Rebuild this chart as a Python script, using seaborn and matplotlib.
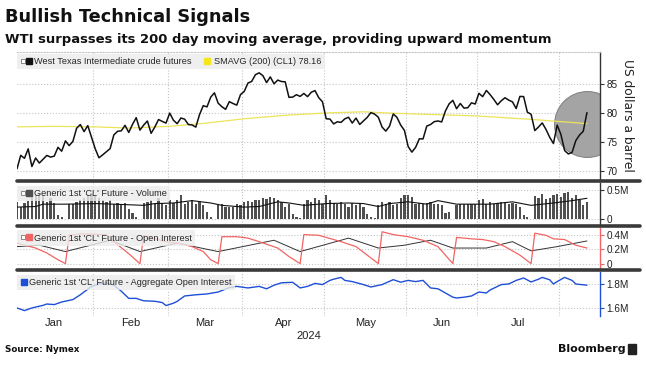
import numpy as np
import pandas as pd
import matplotlib
matplotlib.use("Agg")
from matplotlib import pyplot as plt
from matplotlib.lines import Line2D
from matplotlib.patches import Rectangle
from matplotlib.legend_handler import HandlerTuple
from matplotlib.transforms import blended_transform_factory
import seaborn as sns

# NYMEX sessions Jan 2 - Aug 12 2024
HOLIDAYS = ["2024-01-15", "2024-02-19", "2024-03-29", "2024-05-27", "2024-06-19", "2024-07-04"]
sessions = pd.bdate_range("2024-01-02", "2024-08-12")
sessions = sessions[~sessions.isin(pd.to_datetime(HOLIDAYS))]

wti_close = [
    70.38, 72.70, 72.19, 73.81, 70.77, 72.24, 71.37, 72.02, 72.68, 72.40, 72.56, 74.08, 73.41, 75.19,
    74.37, 75.09, 77.36, 78.01, 76.78, 77.82, 75.85,
    73.82, 72.28, 72.78, 73.31, 73.86, 76.22, 76.84, 76.92, 77.87, 76.64, 78.03, 79.19, 77.04, 77.91,
    78.61, 76.49, 77.58, 78.87, 78.54, 78.26,
    79.97, 78.74, 78.15, 79.13, 78.93, 78.01, 77.93, 77.56, 79.72, 81.26, 81.04, 82.72, 83.47, 81.68,
    81.07, 80.63, 81.95, 81.62, 81.35, 83.17,
    83.71, 85.15, 85.43, 86.59, 86.91, 86.43, 85.23, 86.21, 85.02, 85.66, 85.41, 85.36, 82.69, 82.73,
    83.14, 82.85, 83.36, 82.81, 83.57, 83.85, 82.63, 81.93,
    79.00, 78.95, 78.11, 78.48, 78.38, 78.99, 79.26, 78.26, 79.12, 78.02, 78.63, 79.23, 80.06, 79.80,
    79.26, 77.57, 76.87, 77.72, 79.83, 79.23, 77.91, 76.99,
    74.22, 73.25, 74.07, 75.55, 75.53, 77.74, 78.00, 78.50, 78.62, 78.45, 80.33, 81.57, 82.17, 80.73,
    81.63, 80.83, 80.90, 81.74, 81.54,
    83.38, 82.81, 83.88, 83.16, 82.33, 81.41, 82.10, 82.62, 82.21, 81.91, 80.76, 82.85, 82.82, 80.13,
    79.78, 76.96, 77.59, 78.28, 77.16, 75.81, 74.73, 77.91,
    76.31, 73.52, 72.94, 73.20, 75.23, 76.19, 76.84, 80.06,
]

sma_dates = ["2024-01-02", "2024-01-17", "2024-02-01", "2024-02-14", "2024-03-01", "2024-03-14",
             "2024-04-01", "2024-04-16", "2024-05-01", "2024-05-15", "2024-05-23", "2024-06-06",
             "2024-06-28", "2024-07-22", "2024-08-12"]
sma_values = [77.6, 77.7, 77.6, 77.4, 77.7, 78.2, 79.0, 79.6, 80.0, 80.2, 80.0, 79.8, 79.5, 78.9, 78.16]

# generic 1st CL volume, millions of contracts
volume_m = [
    0.30, 0.21, 0.28, 0.32, 0.40, 0.41, 0.44, 0.41, 0.30, 0.36, 0.28, 0.07, 0.04, 0.01, 0.27, 0.27,
    0.30, 0.33, 0.36, 0.41, 0.45,
    0.41, 0.36, 0.33, 0.30, 0.33, 0.27, 0.28, 0.24, 0.28, 0.17, 0.11, 0.04, 0.01, 0.28, 0.30, 0.33,
    0.27, 0.36, 0.28, 0.24,
    0.33, 0.28, 0.33, 0.41, 0.27, 0.30, 0.33, 0.27, 0.30, 0.24, 0.13, 0.04, 0.01, 0.24, 0.27, 0.21,
    0.22, 0.21, 0.27, 0.25,
    0.30, 0.32, 0.30, 0.33, 0.33, 0.36, 0.34, 0.385, 0.36, 0.33, 0.30, 0.22, 0.27, 0.10, 0.04, 0.03,
    0.27, 0.33, 0.30, 0.36, 0.33, 0.27,
    0.41, 0.33, 0.28, 0.27, 0.30, 0.27, 0.22, 0.28, 0.24, 0.27, 0.21, 0.10, 0.04, 0.03, 0.24, 0.30,
    0.27, 0.30, 0.24, 0.27, 0.36, 0.41,
    0.41, 0.385, 0.27, 0.28, 0.26, 0.28, 0.30, 0.27, 0.26, 0.24, 0.11, 0.13, 0.01, 0.24, 0.26, 0.26,
    0.27, 0.26, 0.27,
    0.33, 0.34, 0.27, 0.30, 0.26, 0.28, 0.30, 0.30, 0.27, 0.28, 0.27, 0.21, 0.07, 0.05, 0.01, 0.40,
    0.36, 0.44, 0.34, 0.36, 0.41, 0.44,
    0.385, 0.45, 0.47, 0.36, 0.41, 0.33, 0.24, 0.30,
]

vol_avg_dates = ["2024-01-02", "2024-01-09", "2024-01-11", "2024-01-22", "2024-02-01", "2024-02-08",
                 "2024-02-21", "2024-02-26", "2024-03-04", "2024-03-11", "2024-03-18", "2024-03-21",
                 "2024-04-01", "2024-04-05", "2024-04-12", "2024-04-17", "2024-04-23", "2024-05-01",
                 "2024-05-09", "2024-05-15", "2024-05-21", "2024-05-24", "2024-06-03", "2024-06-10",
                 "2024-06-13", "2024-06-21", "2024-07-05", "2024-07-15", "2024-07-22", "2024-07-30",
                 "2024-08-06", "2024-08-12"]
vol_avg_values = [0.21, 0.22, 0.26, 0.26, 0.27, 0.26, 0.24, 0.27, 0.28, 0.32, 0.28, 0.24, 0.21, 0.22,
                  0.30, 0.28, 0.24, 0.27, 0.28, 0.27, 0.22, 0.27, 0.30, 0.26, 0.32, 0.26, 0.26, 0.30,
                  0.24, 0.28, 0.32, 0.36]

oi_dates = ["2024-01-02", "2024-01-09", "2024-01-12", "2024-01-18", "2024-01-22", "2024-01-23",
            "2024-01-26", "2024-02-06", "2024-02-08", "2024-02-14", "2024-02-20", "2024-02-21",
            "2024-02-26", "2024-02-29", "2024-03-06", "2024-03-11", "2024-03-14", "2024-03-18",
            "2024-03-20", "2024-03-21", "2024-03-27", "2024-04-02", "2024-04-05", "2024-04-12",
            "2024-04-17", "2024-04-22", "2024-04-23", "2024-04-29", "2024-05-01", "2024-05-07",
            "2024-05-13", "2024-05-16", "2024-05-21", "2024-05-22", "2024-05-28", "2024-06-03",
            "2024-06-07", "2024-06-13", "2024-06-20", "2024-06-21", "2024-06-27", "2024-07-02",
            "2024-07-08", "2024-07-11", "2024-07-17", "2024-07-22", "2024-07-23", "2024-07-26",
            "2024-07-30", "2024-08-02", "2024-08-07", "2024-08-12"]
oi_values = [0.29, 0.22, 0.15, 0.055, 0.0, 0.40, 0.42, 0.41, 0.31, 0.14, 0.0, 0.40, 0.35, 0.31, 0.28,
             0.24, 0.17, 0.055, 0.0, 0.38, 0.38, 0.36, 0.31, 0.22, 0.10, 0.0, 0.41, 0.40, 0.37, 0.31,
             0.24, 0.12, 0.0, 0.45, 0.41, 0.38, 0.33, 0.24, 0.0, 0.37, 0.35, 0.34, 0.31, 0.24, 0.12,
             0.0, 0.43, 0.40, 0.35, 0.34, 0.26, 0.22]

oi_ref_dates = ["2024-01-02", "2024-01-10", "2024-01-22", "2024-02-07", "2024-02-20", "2024-03-05",
                "2024-03-20", "2024-04-11", "2024-04-22", "2024-05-09", "2024-05-21", "2024-05-31",
                "2024-06-11", "2024-06-20", "2024-07-03", "2024-07-15", "2024-07-22", "2024-07-31",
                "2024-08-12"]
oi_ref_values = [0.24, 0.26, 0.17, 0.33, 0.17, 0.29, 0.17, 0.33, 0.17, 0.36, 0.22, 0.26, 0.33, 0.22,
                 0.22, 0.31, 0.18, 0.24, 0.32]

agg_dates = ["2024-01-02", "2024-01-04", "2024-01-08", "2024-01-11", "2024-01-12", "2024-01-17",
             "2024-01-19", "2024-01-24", "2024-01-26", "2024-01-31", "2024-02-02", "2024-02-06",
             "2024-02-08", "2024-02-12", "2024-02-14", "2024-02-16", "2024-02-21", "2024-02-26",
             "2024-02-28", "2024-02-29", "2024-03-04", "2024-03-05", "2024-03-07", "2024-03-12",
             "2024-03-15", "2024-03-20", "2024-03-25", "2024-03-27", "2024-04-02", "2024-04-05",
             "2024-04-09", "2024-04-11", "2024-04-15", "2024-04-18", "2024-04-22", "2024-04-24",
             "2024-04-26", "2024-04-30", "2024-05-02", "2024-05-03", "2024-05-07", "2024-05-08",
             "2024-05-10", "2024-05-15", "2024-05-17", "2024-05-22", "2024-05-28", "2024-05-30",
             "2024-06-03", "2024-06-05", "2024-06-07", "2024-06-11", "2024-06-13", "2024-06-17",
             "2024-06-20", "2024-06-21", "2024-06-25", "2024-06-27", "2024-07-01", "2024-07-03",
             "2024-07-05", "2024-07-10", "2024-07-12", "2024-07-16", "2024-07-18", "2024-07-22",
             "2024-07-24", "2024-07-25", "2024-07-29", "2024-07-30", "2024-07-31", "2024-08-02",
             "2024-08-06", "2024-08-07", "2024-08-12"]
agg_values = [1.600, 1.578, 1.600, 1.622, 1.633, 1.628, 1.650, 1.670, 1.710, 1.780, 1.800, 1.810,
              1.790, 1.740, 1.680, 1.680, 1.660, 1.656, 1.645, 1.620, 1.640, 1.655, 1.700, 1.710,
              1.717, 1.733, 1.770, 1.780, 1.767, 1.780, 1.760, 1.790, 1.810, 1.814, 1.767, 1.780,
              1.805, 1.795, 1.830, 1.840, 1.855, 1.830, 1.820, 1.795, 1.775, 1.795, 1.836, 1.815,
              1.830, 1.820, 1.830, 1.767, 1.760, 1.725, 1.690, 1.683, 1.690, 1.700, 1.733, 1.725,
              1.750, 1.795, 1.800, 1.830, 1.850, 1.817, 1.840, 1.855, 1.835, 1.800, 1.820, 1.855,
              1.830, 1.800, 1.790]

BLACK = "#111111"
YELLOW = "#ece45a"
GREY_BAR = "#4f4f4f"
RED = "#f26464"
BLUE = "#1f4fd6"
GRID = "#c4c4c4"
TEXT = "#222222"

sns.set_style("white")
plt.rcParams["font.family"] = ["Liberation Sans", "DejaVu Sans"]

n = len(sessions)
day = np.arange(n)
pos = pd.Series(day, index=sessions)


def at(dates):
    return pos[pd.to_datetime(dates)].values


months = sessions.month
bounds = [i - 0.5 for i in range(1, n) if months[i] != months[i - 1]]
centers, mlabels = [], []
for m in sorted(set(months)):
    idx = np.where(months == m)[0]
    if len(idx) > 15:
        centers.append((idx[0] + idx[-1]) / 2)
        mlabels.append(sessions[idx[0]].strftime("%b"))

W, H = 646, 372
fig = plt.figure(figsize=(W / 100, H / 100), dpi=100)


def panel(top, bottom):
    return fig.add_axes([17 / W, 1 - bottom / H, (600 - 17) / W, (bottom - top) / H])


ax_px = panel(52, 180)
ax_vol = panel(183, 224.5)
ax_oi = panel(227.5, 268.5)
ax_agg = panel(272, 316)

# price panel
ax_px.scatter([n - 1], [sma_values[-1]], s=2250, color="#a4a4a4", edgecolor="#858585",
              linewidth=0.8, zorder=1.5)
sns.lineplot(x=at(sma_dates), y=sma_values, color=YELLOW, linewidth=0.9, ax=ax_px, zorder=2)
sns.lineplot(x=day, y=wti_close, color=BLACK, linewidth=1.1, ax=ax_px, zorder=3)

# volume panel
sns.barplot(x=day, y=volume_m, native_scale=True, color=GREY_BAR, saturation=1, width=0.6,
            linewidth=0, errorbar=None, ax=ax_vol, zorder=2)
sns.lineplot(x=at(vol_avg_dates), y=vol_avg_values, color=BLACK, linewidth=0.8, ax=ax_vol, zorder=3)

# open interest panel
sns.lineplot(x=at(oi_ref_dates), y=oi_ref_values, color="#333333", linewidth=0.7, ax=ax_oi, zorder=2)
sns.lineplot(x=at(oi_dates), y=oi_values, color=RED, linewidth=0.9, ax=ax_oi, zorder=3)

# aggregate open interest panel
sns.lineplot(x=at(agg_dates), y=agg_values, color=BLUE, linewidth=1.0, ax=ax_agg, zorder=3)


def style(ax, ylim, ticks, labels, spine_color):
    ax.set_xlim(0, 156.5)
    ax.set_ylim(*ylim)
    ax.set_xlabel("")
    ax.set_ylabel("")
    ax.yaxis.tick_right()
    ax.set_yticks(ticks, labels)
    ax.tick_params(axis="y", direction="out", length=3, width=0.8, color=spine_color, pad=1.5,
                   labelsize=7.2, labelcolor=TEXT)
    for side in ["top", "left", "bottom"]:
        ax.spines[side].set_visible(False)
    ax.spines["right"].set_color(spine_color)
    ax.spines["right"].set_linewidth(1.0)
    ax.set_xticks(bounds, minor=True)
    ax.set_xticks(centers, [""] * len(centers))
    ax.tick_params(axis="x", which="both", length=0)
    ax.grid(True, which="minor", axis="x", linestyle=":", color=GRID, linewidth=0.8)
    ax.grid(True, which="major", axis="y", linestyle=":", color=GRID, linewidth=0.8)
    ax.grid(False, which="major", axis="x")
    ax.set_axisbelow(True)


style(ax_px, (68.45, 90.5), [70, 75, 80, 85], ["70", "75", "80", "85"], "#333333")
ax_px.spines["top"].set_visible(True)
ax_px.spines["top"].set_linestyle(":")
ax_px.spines["top"].set_color(GRID)
style(ax_vol, (-0.086, 0.62), [0, 0.5], ["0", "0.5M"], "#333333")
style(ax_oi, (-0.069, 0.51), [0, 0.2, 0.4], ["0", "0.2M", "0.4M"], RED)
style(ax_agg, (1.533, 1.9), [1.6, 1.8], ["1.6M", "1.8M"], BLUE)

ax_agg.set_xticks(centers, mlabels)
ax_agg.tick_params(axis="x", labelsize=8, labelcolor=TEXT, pad=1.5)
ax_agg.text(78.25, -0.45, "2024", transform=blended_transform_factory(ax_agg.transData, ax_agg.transAxes),
            ha="center", va="center", fontsize=8, color=TEXT)


def square(color, size=5, hollow=False):
    if hollow:
        return Line2D([], [], marker="s", linestyle="none", markersize=3, markerfacecolor="white",
                      markeredgecolor="#777777", markeredgewidth=0.6)
    return Line2D([], [], marker="s", linestyle="none", markersize=size, markerfacecolor=color,
                  markeredgecolor=color)


def add_legend(ax, handles, labels, hlen=1.3, drop=3):
    h = ax.get_position().height * H
    ax.legend(handles, labels, loc="upper left", bbox_to_anchor=(0, 1 - drop / h), ncol=len(labels),
              frameon=True, fancybox=False, framealpha=0.8, facecolor="#ececec", edgecolor="none",
              fontsize=6.6, handlelength=hlen, handleheight=0.7, handletextpad=0.2, columnspacing=1.0,
              borderpad=0.35, borderaxespad=0.0,
              handler_map={tuple: HandlerTuple(ndivide=None, pad=0.1)})


add_legend(ax_px, [(square(None, hollow=True), square(BLACK)), square("#f5e51a")],
           ["West Texas Intermediate crude futures", "SMAVG (200) (CL1) 78.16"], drop=2)
add_legend(ax_vol, [(square(None, hollow=True), square(GREY_BAR))],
           ["Generic 1st 'CL' Future - Volume"])
add_legend(ax_oi, [(square(None, hollow=True), square(RED))],
           ["Generic 1st 'CL' Future - Open Interest"])
add_legend(ax_agg, [square(BLUE)], ["Generic 1st 'CL' Future - Aggregate Open Interest"], hlen=0.8)

# thick panel separators
for y in [181, 226, 270.3]:
    fig.add_artist(Line2D([17 / W, 640 / W], [1 - y / H, 1 - y / H], transform=fig.transFigure,
                          color="#3a3a3a", linewidth=2.6))

fig.text(627 / W, 1 - 115 / H, "US dollars a barrel", rotation=270, ha="center", va="center",
         fontsize=8.8, color=TEXT, family="DejaVu Sans")

fig.text(5 / W, 1 - 8 / H, "Bullish Technical Signals", ha="left", va="top", fontsize=12.8,
         fontweight="bold", family="DejaVu Sans", color="#111111")
fig.text(5 / W, 1 - 33 / H, "WTI surpasses its 200 day moving average, providing upward momentum",
         ha="left", va="top", fontsize=9.45, fontweight="bold", family="DejaVu Sans", color="#111111")
fig.text(5 / W, 1 - 350 / H, "Source: Nymex", ha="left", va="center", fontsize=6.3,
         fontweight="bold", family="DejaVu Sans", color="#111111")
fig.text(626 / W, 1 - 349 / H, "Bloomberg", ha="right", va="center", fontsize=8,
         fontweight="bold", family="DejaVu Sans", color="#111111")
fig.add_artist(Rectangle((628 / W, 1 - 354 / H), 8 / W, 10 / H, transform=fig.transFigure,
                         color="#222222"))

fig.savefig("out.png", dpi=100)
